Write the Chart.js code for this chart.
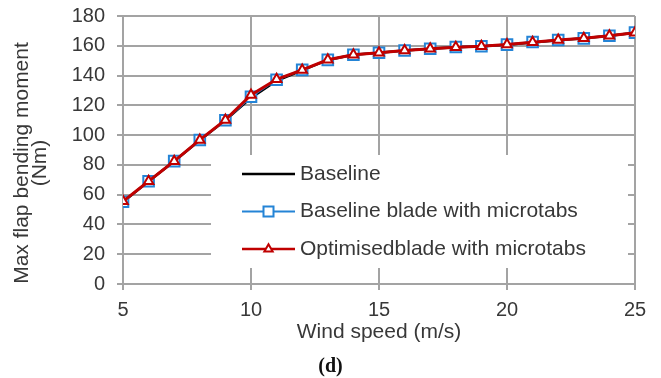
<!DOCTYPE html>
<html>
<head>
<meta charset="utf-8">
<script src="https://cdn.jsdelivr.net/npm/chart.js@4/dist/chart.umd.min.js"></script>
<style>
  html, body { margin: 0; padding: 0; background: #ffffff; }
  #wrap { width: 661px; height: 378px; }
</style>
</head>
<body>
<div id="wrap"><canvas id="c" width="661" height="378"></canvas></div>
<script>
// ---- Data ----
const windSpeed = [5, 6, 7, 8, 9, 10, 11, 12, 13, 14, 15, 16, 17, 18, 19, 20, 21, 22, 23, 24, 25];
const baselineMoment = [55, 69, 82.5, 96.5, 110, 125, 136.5, 143.5, 150.5, 154, 155.3, 156.8, 158, 159, 159.7, 160.7, 162.2, 163.7, 165, 166.7, 168.8];
const baselineMicrotabsMoment = [55.2, 69, 82.5, 96.7, 110, 125.8, 137.2, 143.8, 150.5, 154, 155.3, 156.8, 158, 159.2, 159.7, 160.8, 162.5, 163.9, 165, 166.7, 168.8];
const optimisedMicrotabsMoment = [55.5, 69, 82.5, 96.8, 110.2, 127, 137.5, 143.8, 150.6, 154, 155.3, 156.8, 158, 159, 159.7, 160.8, 162.3, 163.9, 165, 166.7, 168.8];

const seriesNames = ['Baseline', 'Baseline blade with microtabs', 'Optimisedblade with microtabs'];
const xTitle = 'Wind speed (m/s)';
const yTitleLines = ['Max flap bending moment', '(Nm)'];
const panelLabel = '(d)';

const BLACK = '#000000';
const BLUE = '#2484d6';
const RED = '#c00000';
const GRID = '#a3a3a3';
const TEXT = '#383838';
const FONT = "'Liberation Sans', Arial, sans-serif";

function pts(arr) { return windSpeed.map((x, i) => ({ x: x, y: arr[i] })); }

// Legend drawn inside the plot area on a white box (covers gridlines)
const insideLegend = {
  id: 'insideLegend',
  beforeDatasetsDraw(chart) {
    const ctx = chart.ctx;
    const a = chart.chartArea;
    const bx = a.left + 88, by = a.top + 139, bw = (a.right - 7) - bx, bh = (a.bottom - 16) - by;
    ctx.save();
    ctx.fillStyle = '#ffffff';
    ctx.fillRect(bx, by, bw, bh);
    const x0 = bx + 31, x1 = bx + 84, tx = bx + 89;
    const rows = [by + 19, by + 56.5, by + 94];
    const styles = [
      { c: BLACK, w: 2.5, m: null },
      { c: BLUE, w: 2, m: 'rect' },
      { c: RED, w: 2.5, m: 'triangle' }
    ];
    ctx.font = '21px ' + FONT;
    ctx.textBaseline = 'middle';
    ctx.textAlign = 'left';
    for (let i = 0; i < 3; i++) {
      const y = rows[i], s = styles[i];
      ctx.strokeStyle = s.c; ctx.lineWidth = s.w;
      ctx.beginPath(); ctx.moveTo(x0, y); ctx.lineTo(x1, y); ctx.stroke();
      const mx = (x0 + x1) / 2;
      if (s.m) {
        ctx.fillStyle = '#ffffff';
        ctx.strokeStyle = s.c;
        ctx.lineWidth = 2;
        ctx.beginPath();
        if (s.m === 'rect') {
          const h = 5;
          ctx.rect(mx - h, y - h, 2 * h, 2 * h);
        } else {
          const r = 4.8;
          ctx.moveTo(mx, y - r);
          ctx.lineTo(mx + r * 0.866, y + r * 0.5);
          ctx.lineTo(mx - r * 0.866, y + r * 0.5);
          ctx.closePath();
        }
        ctx.fill(); ctx.stroke();
      }
      ctx.fillStyle = TEXT;
      ctx.fillText(seriesNames[i], tx, y);
    }
    ctx.restore();
  }
};

// Y axis title (two lines, rotated) and panel label
const textPlugin = {
  id: 'textPlugin',
  afterDraw(chart) {
    const ctx = chart.ctx;
    const a = chart.chartArea;
    const cy = (a.top + a.bottom) / 2 + 13;
    ctx.save();
    ctx.font = '21px ' + FONT;
    ctx.fillStyle = TEXT;
    ctx.textAlign = 'center';
    ctx.textBaseline = 'middle';
    const xs = [22, 40];
    for (let i = 0; i < yTitleLines.length; i++) {
      ctx.save();
      ctx.translate(xs[i], cy);
      ctx.rotate(-Math.PI / 2);
      ctx.fillText(yTitleLines[i], 0, 0);
      ctx.restore();
    }
    ctx.font = "bold 20px 'Liberation Serif', 'Times New Roman', serif";
    ctx.fillStyle = '#111111';
    ctx.fillText(panelLabel, chart.width / 2, chart.height - 11);
    ctx.restore();
  }
};

new Chart(document.getElementById('c'), {
  type: 'line',
  data: {
    datasets: [
      {
        label: seriesNames[0], data: pts(baselineMoment),
        borderColor: BLACK, borderWidth: 2.5, pointRadius: 0, order: 2, tension: 0
      },
      {
        label: seriesNames[1], data: pts(baselineMicrotabsMoment),
        borderColor: BLUE, borderWidth: 2, pointStyle: 'rect', pointRadius: 7.5,
        pointBorderWidth: 2, pointBackgroundColor: '#ffffff', pointBorderColor: BLUE, order: 1, tension: 0
      },
      {
        label: seriesNames[2], data: pts(optimisedMicrotabsMoment),
        borderColor: RED, borderWidth: 3, pointStyle: 'triangle', pointRadius: 5.5,
        pointBorderWidth: 2, pointBackgroundColor: '#ffffff', pointBorderColor: RED, order: 0, tension: 0
      }
    ]
  },
  options: {
    responsive: false,
    devicePixelRatio: 1,
    animation: false,
    layout: { padding: { top: 16, right: 26, bottom: 20, left: 0 } },
    plugins: {
      legend: { display: false },
      tooltip: { enabled: false },
      title: { display: false }
    },
    scales: {
      x: {
        type: 'linear', min: 5, max: 25,
        afterFit(s) { s.height = 74; s.paddingTop = 0; s.paddingBottom = 0; },
        ticks: { stepSize: 5, padding: 8, color: TEXT, font: { family: FONT, size: 20 }, maxRotation: 0 },
        grid: { color: GRID, lineWidth: 2, tickLength: 6, drawTicks: true },
        border: { color: GRID, width: 2 },
        title: { display: true, text: xTitle, color: TEXT, padding: { top: 0, bottom: 13 }, font: { family: FONT, size: 21, lineHeight: 1.2 } }
      },
      y: {
        type: 'linear', min: 0, max: 180,
        afterFit(s) { s.width = 123; s.paddingTop = 0; s.paddingBottom = 0; },
        ticks: { stepSize: 20, padding: 12, color: TEXT, font: { family: FONT, size: 20 } },
        grid: { color: GRID, lineWidth: 2, tickLength: 6, drawTicks: true },
        border: { color: GRID, width: 2 }
      }
    }
  },
  plugins: [insideLegend, textPlugin]
});
</script>
</body>
</html>
